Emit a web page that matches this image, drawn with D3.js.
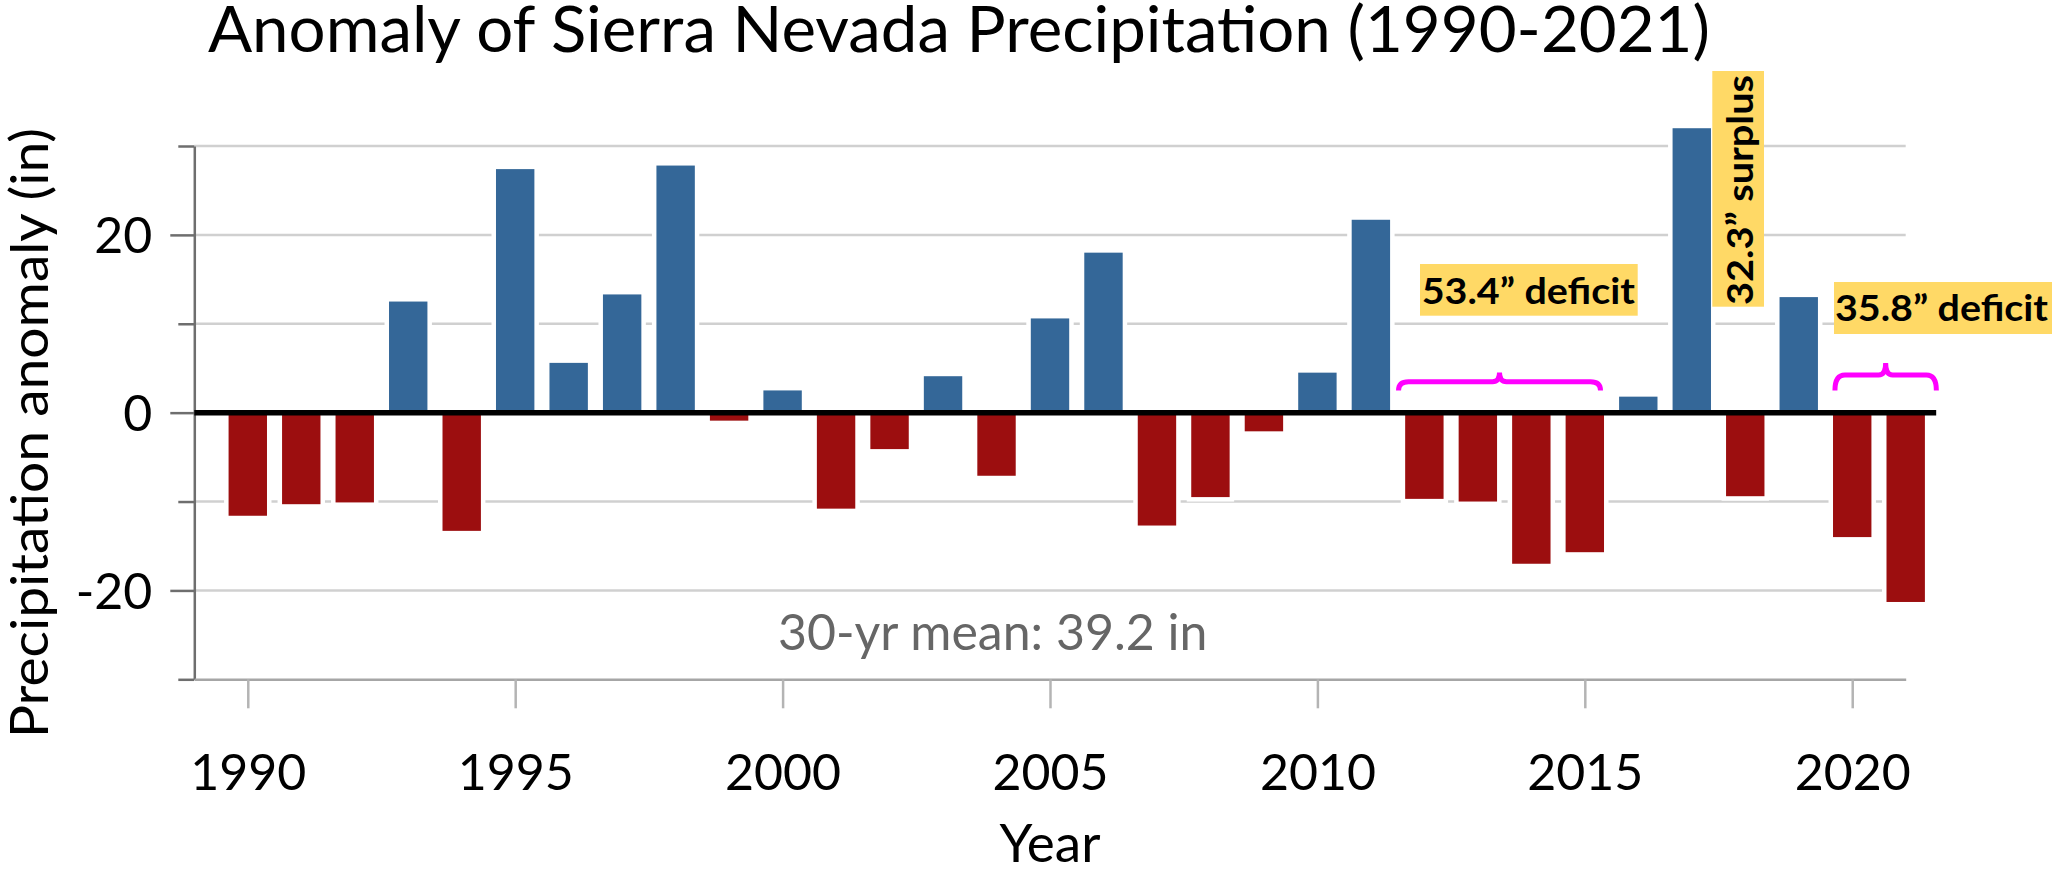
<!DOCTYPE html>
<html>
<head>
<meta charset="utf-8">
<script src="https://cdn.jsdelivr.net/npm/d3@7"></script>
<style>
  body { margin: 0; background: #fff; }
  text { font-family: Lato, "Open Sans", sans-serif; }
</style>
</head>
<body>
<script>
  // data (inches, anomaly vs 30-yr mean)
  const years = [1990, 1991, 1992, 1993, 1994, 1995, 1996, 1997, 1998, 1999,
                 2000, 2001, 2002, 2003, 2004, 2005, 2006, 2007, 2008, 2009,
                 2010, 2011, 2012, 2013, 2014, 2015, 2016, 2017, 2018, 2019,
                 2020, 2021];
  const anomaly = [-11.6, -10.3, -10.1, 12.5, -13.3, 27.4, 5.6, 13.3, 27.8, -0.9,
                   2.5, -10.8, -4.1, 4.1, -7.1, 10.6, 18.0, -12.7, -9.5, -2.1,
                   4.5, 21.7, -9.7, -10.0, -17.0, -15.7, 1.8, 32.0, -9.4, 13.0,
                   -14.0, -21.3];
  const yTicks = [-30, -20, -10, 0, 10, 20, 30];
  const yLabelled = [-20, 0, 20];
  const gridValues = [30, 20, 10, -10, -20];
  const xTicks = [1990, 1995, 2000, 2005, 2010, 2015, 2020];
  const braceSpans = [[2011.47, 2015.34], [2019.63, 2021.62]];
  const notes = ["53.4\u201d deficit", "32.3\u201d surplus", "35.8\u201d deficit"];
  const meanLabel = "30-yr mean: 39.2 in";

  const width = 2054, height = 871;
  const blue = '#346798', red = '#9c0e0f', gold = '#ffd966';

  const svg = d3.select('body')
    .append('svg')
    .attr('width', width)
    .attr('height', height);

  let x = d3.scaleLinear()
      .domain([1989, 2021])
      .range([194.3, 1905.7]);

  let y = d3.scaleLinear()
      .domain([-30, 30])
      .range([679.3, 146]);

  const barW = 38.4;
  const halo = 4.5;

  const data = years.map(function(yr, i){ return {year: yr, value: anomaly[i]}; });

  // gridlines
  svg.append('g').selectAll('line')
    .data(gridValues)
    .enter().append('line')
      .attr('x1', x(1989)).attr('x2', x(2021))
      .attr('y1', function(d){ return y(d); })
      .attr('y2', function(d){ return y(d); })
      .attr('stroke', '#d0d0d0')
      .attr('stroke-width', 2.5);

  // white gap around each bar, then the bars
  svg.append('g').selectAll('rect')
    .data(data)
    .enter().append('rect')
      .attr('x', function(d){ return x(d.year) - barW / 2 - halo; })
      .attr('y', function(d){ return Math.min(y(d.value), y(0)) - halo; })
      .attr('width', barW + 2 * halo)
      .attr('height', function(d){ return Math.abs(y(d.value) - y(0)) + 2 * halo; })
      .attr('fill', '#fff');

  svg.append('g').selectAll('rect')
    .data(data)
    .enter().append('rect')
      .attr('x', function(d){ return x(d.year) - barW / 2; })
      .attr('y', function(d){ return Math.min(y(d.value), y(0)); })
      .attr('width', barW)
      .attr('height', function(d){ return Math.abs(y(d.value) - y(0)); })
      .attr('fill', function(d){ return d.value >= 0 ? blue : red; });

  // y axis
  const yAxis = svg.append('g')
    .attr('transform', 'translate(' + x(1989) + ',0)')
    .call(d3.axisLeft(y)
      .tickValues(yTicks)
      .tickSize(24)
      .tickSizeOuter(0)
      .tickPadding(18)
      .tickFormat(function(d){ return yLabelled.includes(d) ? d : ''; }));

  yAxis.select('.domain').attr('stroke', '#6e6e6e').attr('stroke-width', 2.5);
  yAxis.selectAll('.tick line')
    .attr('x2', function(d){ return yLabelled.includes(d) ? -24 : -16; })
    .attr('stroke', '#6e6e6e')
    .attr('stroke-width', 2.5);
  yAxis.selectAll('.tick text')
    .attr('dy', '0.36em')
    .attr('font-family', 'Lato, sans-serif')
    .attr('font-size', 50)
    .attr('fill', '#000');

  // x axis
  const xAxis = svg.append('g')
    .attr('transform', 'translate(0,' + y(-30) + ')')
    .call(d3.axisBottom(x)
      .tickValues(xTicks)
      .tickSize(29)
      .tickSizeOuter(0)
      .tickFormat(d3.format('d')));

  xAxis.select('.domain').attr('stroke', '#a6a6a6').attr('stroke-width', 2.5);
  xAxis.selectAll('.tick line').attr('stroke', '#b4b4b4').attr('stroke-width', 2.5);
  xAxis.selectAll('.tick text')
    .attr('y', 110.7)
    .attr('dy', 0)
    .attr('font-family', 'Lato, sans-serif')
    .attr('font-size', 50)
    .attr('fill', '#000');

  // zero line
  svg.append('line')
    .attr('x1', x(1989)).attr('x2', x(2021.57))
    .attr('y1', y(0)).attr('y2', y(0))
    .attr('stroke', '#000')
    .attr('stroke-width', 5.5);

  // braces
  const braceShape = [
    {bar: 381.7, peak: 372.5},
    {bar: 375, peak: 363}
  ];
  svg.append('g').selectAll('path')
    .data(braceSpans)
    .enter().append('path')
      .attr('d', function(d, i){
        const x0 = x(d[0]) + 2.5, x1 = x(d[1]) - 2.5, xm = (x0 + x1) / 2;
        const yb = braceShape[i].bar, yp = braceShape[i].peak, ye = 390.5;
        const r = 10, r2 = 7;
        return 'M' + x0 + ',' + ye +
          'Q' + x0 + ',' + yb + ' ' + (x0 + r) + ',' + yb +
          'L' + (xm - r2) + ',' + yb +
          'Q' + xm + ',' + yb + ' ' + xm + ',' + yp +
          'Q' + xm + ',' + yb + ' ' + (xm + r2) + ',' + yb +
          'L' + (x1 - r) + ',' + yb +
          'Q' + x1 + ',' + yb + ' ' + x1 + ',' + ye;
      })
      .attr('fill', 'none')
      .attr('stroke', '#ff00ff')
      .attr('stroke-width', 5);

  // annotation boxes
  svg.append('rect')
    .attr('x', 1420).attr('y', 264).attr('width', 217.7).attr('height', 51.7)
    .attr('fill', gold);
  svg.append('text')
    .attr('x', 1421.7).attr('y', 304)
    .attr('font-size', 37).attr('font-weight', 700)
    .attr('textLength', 213.3).attr('lengthAdjust', 'spacingAndGlyphs')
    .text(notes[0]);

  svg.append('rect')
    .attr('x', 1712.3).attr('y', 71).attr('width', 51.7).attr('height', 235.7)
    .attr('fill', gold);
  svg.append('text')
    .attr('transform', 'translate(1752.7,305) rotate(-90)')
    .attr('font-size', 37).attr('font-weight', 700)
    .attr('textLength', 230).attr('lengthAdjust', 'spacingAndGlyphs')
    .text(notes[1]);

  svg.append('rect')
    .attr('x', 1834).attr('y', 282).attr('width', 218).attr('height', 52)
    .attr('fill', gold);
  svg.append('text')
    .attr('x', 1835).attr('y', 321)
    .attr('font-size', 37).attr('font-weight', 700)
    .attr('textLength', 213).attr('lengthAdjust', 'spacingAndGlyphs')
    .text(notes[2]);

  // mean note
  svg.append('text')
    .attr('x', 778).attr('y', 650)
    .attr('font-size', 50)
    .attr('fill', '#666')
    .text(meanLabel);

  // titles
  svg.append('text')
    .attr('x', 208).attr('y', 52)
    .attr('font-size', 64)
    .attr('textLength', 1502).attr('lengthAdjust', 'spacingAndGlyphs')
    .text('Anomaly of Sierra Nevada Precipitation (1990-2021)');

  svg.append('text')
    .attr('x', 1050).attr('y', 862)
    .attr('font-size', 53)
    .attr('text-anchor', 'middle')
    .text('Year');

  svg.append('text')
    .attr('transform', 'translate(48,433) rotate(-90)')
    .attr('font-size', 53)
    .attr('text-anchor', 'middle')
    .attr('textLength', 610).attr('lengthAdjust', 'spacingAndGlyphs')
    .text('Precipitation anomaly (in)');
</script>
</body>
</html>
